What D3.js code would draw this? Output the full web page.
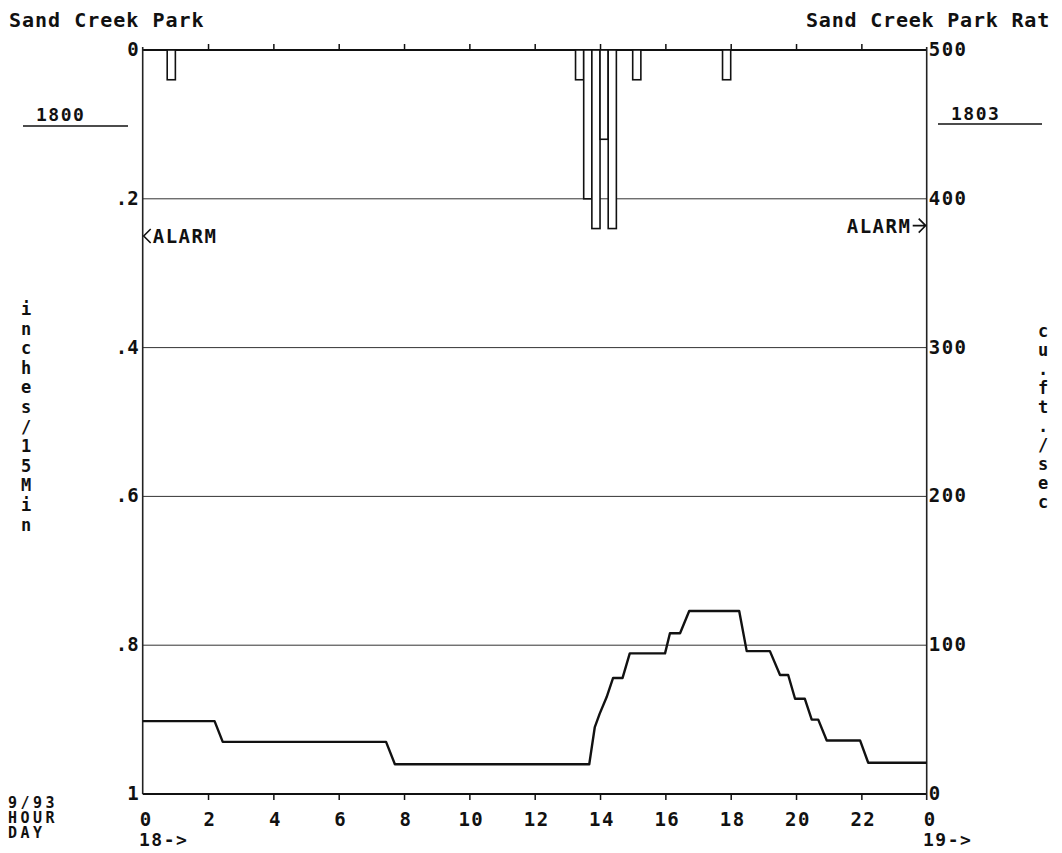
<!DOCTYPE html>
<html>
<head>
<meta charset="utf-8">
<script src="https://cdn.jsdelivr.net/npm/d3@7"></script>
<style>
  html, body { margin: 0; padding: 0; background: #fff; }
  svg { display: block; }
  text { font-family: "DejaVu Sans Mono", monospace; font-weight: bold; fill: #111; }
</style>
</head>
<body>
<svg id="chart" width="1062" height="853"></svg>
<script>
// ---- data ----
const hourTicks = [0, 2, 4, 6, 8, 10, 12, 14, 16, 18, 20, 22, 24];
const hourTickLabels = ["0", "2", "4", "6", "8", "10", "12", "14", "16", "18", "20", "22", "0"];
const rainTicks = [0, 0.2, 0.4, 0.6, 0.8, 1];
const rainTickLabels = ["0", ".2", ".4", ".6", ".8", "1"];
const flowTicks = [500, 400, 300, 200, 100, 0];
const flowTickLabels = ["500", "400", "300", "200", "100", "0"];

// rainfall: 15-minute intervals (start hour) and depth in inches
const rainStart = [0.75, 13.25, 13.5, 13.75, 14.0, 14.25, 15.0, 17.75];
const rainInches = [0.04, 0.04, 0.20, 0.24, 0.12, 0.24, 0.04, 0.04];

// flow (cu.ft/sec) breakpoints: hour, value
const flowHours = [0, 2.2, 2.45, 7.45, 7.72, 13.67, 13.84, 13.99, 14.2, 14.4, 14.69, 14.91, 15.99, 16.14, 16.45, 16.73, 18.26, 18.49, 19.2, 19.51, 19.76, 19.97, 20.27, 20.48, 20.68, 20.94, 21.96, 22.21, 24];
const flowCfs   = [49, 49, 35, 35, 20, 20, 45, 54, 65, 78, 78, 94.5, 94.5, 108, 108, 123, 123, 96, 96, 80, 80, 64, 64, 50, 50, 36, 36, 21, 21];

const rainAlarm = 0.25;
const flowAlarm = 382;
const leftTitle = "Sand Creek Park";
const rightTitle = "Sand Creek Park Rat";
const leftGauge = "1800";
const rightGauge = "1803";
const leftAxisTitle = "inches/15Min";
const rightAxisTitle = "cu.ft./sec";
const dateLines = ["9/93", "HOUR", "DAY"];
const dayStart = "18->";
const dayEnd = "19->";

// ---- layout ----
const L = 142.7, R = 926.7, T = 50, B = 794;
const svg = d3.select("#chart");
const x = d3.scaleLinear().domain([0, 24]).range([L, R]);
const yRain = d3.scaleLinear().domain([0, 1]).range([T, B]);
const yFlow = d3.scaleLinear().domain([0, 500]).range([B, T]);
const FS = 19, LS = 1.5;

function txt(g, s, px, py, anchor, size, ls) {
  return g.append("text").attr("x", px).attr("y", py)
    .attr("text-anchor", anchor || "start")
    .attr("font-size", size || FS)
    .attr("letter-spacing", ls === undefined ? LS : ls)
    .text(s);
}

// titles
txt(svg, leftTitle, 9, 27, "start", 20, 1);
txt(svg, rightTitle, 806, 27, "start", 20, 0.8);

// gauge labels with underline
txt(svg, leftGauge, 36, 121, "start", 18);
svg.append("line").attr("x1", 23).attr("x2", 128).attr("y1", 126).attr("y2", 126).attr("stroke", "#111").attr("stroke-width", 1.6);
txt(svg, rightGauge, 951, 120, "start", 18);
svg.append("line").attr("x1", 938).attr("x2", 1042).attr("y1", 124).attr("y2", 124).attr("stroke", "#111").attr("stroke-width", 1.6);

// gridlines
svg.append("g").selectAll("line").data(rainTicks.filter(d => d > 0 && d < 1)).join("line")
  .attr("x1", L).attr("x2", R)
  .attr("y1", d => yRain(d)).attr("y2", d => yRain(d))
  .attr("stroke", "#333").attr("stroke-width", 1);

// axes lines (top, bottom, left, right)
svg.append("line").attr("x1", L).attr("x2", R).attr("y1", T).attr("y2", T).attr("stroke", "#111").attr("stroke-width", 2);
svg.append("line").attr("x1", L).attr("x2", R).attr("y1", B).attr("y2", B).attr("stroke", "#111").attr("stroke-width", 2);
svg.append("line").attr("x1", L).attr("x2", L).attr("y1", T - 3).attr("y2", B).attr("stroke", "#222").attr("stroke-width", 1.6);
svg.append("line").attr("x1", R).attr("x2", R).attr("y1", T - 3).attr("y2", B + 6).attr("stroke", "#222").attr("stroke-width", 1.6);

// top & bottom ticks via d3 axes
const topAxis = d3.axisTop(x).tickValues(hourTicks.slice(1, -1)).tickSize(6).tickFormat("");
const gTop = svg.append("g").attr("transform", `translate(0,${T})`).call(topAxis);
gTop.select(".domain").remove();
gTop.selectAll("line").attr("stroke", "#111").attr("stroke-width", 1.5);

const botAxis = d3.axisBottom(x).tickValues(hourTicks.slice(1, -1)).tickSize(6).tickFormat("");
const gBot = svg.append("g").attr("transform", `translate(0,${B})`).call(botAxis);
gBot.select(".domain").remove();
gBot.selectAll("line").attr("stroke", "#111").attr("stroke-width", 1.5);

// x tick labels
svg.append("g").selectAll("text").data(hourTicks).join("text")
  .attr("x", (d, i) => i === 0 ? x(d) - 3 : (i === hourTicks.length - 1 ? x(d) - 3 : x(d) + 2))
  .attr("y", 826)
  .attr("text-anchor", (d, i) => (i === 0 || i === hourTicks.length - 1) ? "start" : "middle")
  .attr("font-size", FS).attr("letter-spacing", LS)
  .text((d, i) => hourTickLabels[i]);

txt(svg, dayStart, 139, 846, "start", 18);
txt(svg, dayEnd, 923, 846, "start", 18);

// date block
dateLines.forEach((s, i) => txt(svg, s, 8, 808 + i * 15, "start", 15, 3.5));

// left y labels
svg.append("g").selectAll("text").data(rainTicks).join("text")
  .attr("x", L - 4).attr("y", d => yRain(d) + 6)
  .attr("text-anchor", "end")
  .attr("font-size", FS).attr("letter-spacing", 0)
  .text((d, i) => rainTickLabels[i]);

// right y labels
svg.append("g").selectAll("text").data(flowTicks).join("text")
  .attr("x", R + 2).attr("y", d => yFlow(d) + 6)
  .attr("text-anchor", "start")
  .attr("font-size", FS).attr("letter-spacing", LS)
  .text((d, i) => flowTickLabels[i]);

// vertical axis titles (stacked characters)
leftAxisTitle.split("").forEach((c, i) => {
  svg.append("text").attr("x", 26).attr("y", 315 + i * 19.6).attr("text-anchor", "middle")
    .attr("font-size", 17).text(c);
});
rightAxisTitle.split("").forEach((c, i) => {
  svg.append("text").attr("x", 1043).attr("y", 337 + i * 19).attr("text-anchor", "middle")
    .attr("font-size", 17).text(c);
});

// alarm markers
const yA = yRain(rainAlarm);
svg.append("path").attr("d", `M${L + 8},${yA - 7} L${L + 1},${yA} L${L + 8},${yA + 7}`)
  .attr("fill", "none").attr("stroke", "#111").attr("stroke-width", 1.6);
txt(svg, "ALARM", L + 10, yA + 7, "start", FS);
const yF = yFlow(flowAlarm);
svg.append("path").attr("d", `M${R - 8},${yF - 7} L${R - 1},${yF} L${R - 8},${yF + 7} M${R - 14},${yF} L${R - 1},${yF}`)
  .attr("fill", "none").attr("stroke", "#111").attr("stroke-width", 1.6);
txt(svg, "ALARM", R - 80, yF + 7, "start", FS);

// rainfall bars (hanging from top)
const barW = x(0.25) - x(0);
svg.append("g").selectAll("rect").data(rainStart).join("rect")
  .attr("x", d => x(d))
  .attr("y", yRain(0))
  .attr("width", barW)
  .attr("height", (d, i) => yRain(rainInches[i]) - yRain(0))
  .attr("fill", "#fff").attr("stroke", "#111").attr("stroke-width", 1.6);

// flow line
const line = d3.line().x((d, i) => x(flowHours[i])).y((d, i) => yFlow(flowCfs[i]));
svg.append("path").datum(flowCfs).attr("d", line)
  .attr("fill", "none").attr("stroke", "#111").attr("stroke-width", 2.4).attr("stroke-linejoin", "round");
</script>
</body>
</html>
